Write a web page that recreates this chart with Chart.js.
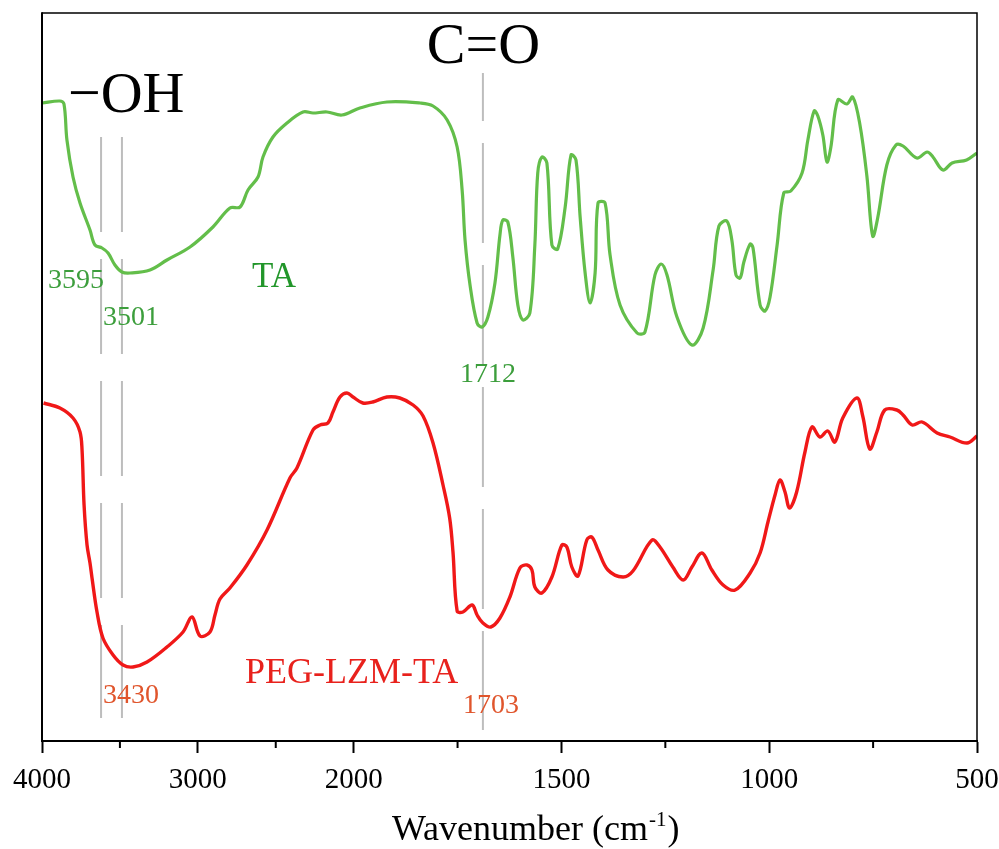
<!DOCTYPE html>
<html><head><meta charset="utf-8">
<script src="https://cdn.jsdelivr.net/npm/chart.js@4/dist/chart.umd.min.js"></script>
<style>html,body{margin:0;padding:0;background:#fff;}#wrap{width:999px;height:849px;position:relative;}</style>
</head><body><div id="wrap"><canvas id="c"></canvas></div>
<script>
// ---- data (wavenumber in cm-1, signal in arbitrary units) ----
const taWavenumber = [4000,3885,3859,3840,3801,3756,3692,3660,3615,3576,3532,3487,3435,3307,3198,3050,2903,2794,2729,2678,2614,2582,2518,2428,2325,2261,2171,2075,
  1985,1920,1840,1809,1775,1751,1739,1732,1720,1703,1691,1677,1660,1648,1641,1629,1617,1605,1593,1576,1564,1557,1547,1535,1523,1509,1491,1477,1465,1455,1443,1431,1419,1412,1395,1383,1359,1318,1299,1275,1260,1246,1222,1186,1159,1135,1121,1102,1090,1080,1070,1061,1046,1039,1022,1010,998,981,965,948,921,907,892,883,871,861,852,835,813,799,782,765,751,739,717,695,678,645,620,606,582,560,525,500];
const taSignal = [638,640,637,601,564,538,511,496,493,488,476,469,468,471,481,494,514,533,534,551,564,584,604,618,629,628,629,626,
  633,639,638,635,621,594,551,501,456,418,414,424,458,506,521,519,484,436,421,428,496,568,584,578,496,492,534,586,581,524,468,438,468,538,538,486,436,408,409,466,477,466,424,396,413,471,515,520,501,466,463,479,497,493,436,430,444,496,548,550,568,601,630,625,606,579,593,641,637,644,617,565,505,523,576,596,595,583,589,584,571,578,581,588];

const pegWavenumber = [3990,3885,3801,3756,3743,3730,3711,3692,3679,3647,3609,3544,3480,3416,3326,3198,3095,3037,2986,2922,2890,2858,2794,2685,2556,2409,2364,2261,2216,2165,2133,2088,2043,2004,
  1978,1954,1920,1889,1857,1833,1809,1785,1769,1761,1751,1737,1715,1703,1689,1670,1648,1624,1600,1583,1571,1564,1547,1523,1499,1487,1475,1460,1439,1427,1412,1388,1352,1328,1282,1263,1232,1207,1186,1162,1138,1111,1082,1046,1022,1003,986,974,962,951,934,914,897,878,859,842,823,789,775,758,741,722,693,678,656,632,596,565,524,500];
const pegSignal = [338,333,323,309,291,236,196,178,163,129,103,86,76,74,79,94,109,124,105,109,126,142,153,176,211,263,273,311,316,318,329,344,348,344,
  338,339,344,343,336,325,298,256,223,189,130,129,136,126,118,114,123,144,173,176,171,154,148,164,196,194,174,165,201,204,191,171,164,170,201,194,174,161,174,188,171,156,151,168,188,219,246,261,249,233,249,289,314,304,310,299,323,343,325,292,309,331,331,326,316,319,308,304,298,305];

const majorTicks = [4000, 3000, 2000, 1500, 1000, 500];
const minorTicks = [3500, 2500, 1750, 1250, 750];

// dashed marker lines (wavenumber, top and bottom signal of each line)
const peakLineX = [3621, 3487, 1689];
const peakLineTop = [604, 604, 668];
const peakLineBottom = [23, 23, 11];

// ---- split wavenumber scale: 4000-2000 takes the first third, 2000-500 the rest ----
const SPLIT = 2000, SPLIT_FRAC = 1/3;
function toDecimal(v){ return v >= SPLIT ? (4000 - v) / (4000 - SPLIT) * SPLIT_FRAC : SPLIT_FRAC + (SPLIT - v) / (SPLIT - 500) * (1 - SPLIT_FRAC); }
function fromDecimal(d){ return d <= SPLIT_FRAC ? 4000 - d / SPLIT_FRAC * (4000 - SPLIT) : SPLIT - (d - SPLIT_FRAC) / (1 - SPLIT_FRAC) * (SPLIT - 500); }

class SplitScale extends Chart.LinearScale {
  buildTicks(){ return majorTicks.map(v => ({ value: v })); }
  getPixelForValue(v){ return this.getPixelForDecimal(toDecimal(v)); }
  getValueForPixel(p){ return fromDecimal(this.getDecimalForPixel(p)); }
}
SplitScale.id = 'split';
SplitScale.defaults = Chart.LinearScale.defaults;
Chart.register(SplitScale);

const pts = (xs, ys) => xs.map((x, i) => ({ x, y: ys[i] }));

const datasets = [
  { label: 'TA', data: pts(taWavenumber, taSignal), borderColor: '#63be4a', borderWidth: 3.2, pointRadius: 0, tension: 0.35 },
  { label: 'PEG-LZM-TA', data: pts(pegWavenumber, pegSignal), borderColor: '#f01818', borderWidth: 3.4, pointRadius: 0, tension: 0.35 }
];
peakLineX.forEach((x, i) => {
  datasets.push({ label: 'line' + i, data: [{ x, y: peakLineTop[i] }, { x, y: peakLineBottom[i] }],
    borderColor: '#bdbdbd', borderWidth: 2, pointRadius: 0, borderDash: i === 2 ? [100, 22] : [95, 27],
    borderDashOffset: i === 2 ? 52 : 0 });
});

const SERIF = '"Liberation Serif", "Times New Roman", serif';
const annotations = [
  { text: '\u2212OH', x: 3833, y: 629, color: '#000', size: 58 },
  { text: 'C=O', x: 1824, y: 678, color: '#000', size: 58 },
  { text: 'TA', x: 2652, y: 454, color: '#22962a', size: 35 },
  { text: '3595', x: 3961, y: 453, color: '#3c9e3c', size: 28 },
  { text: '3501', x: 3609, y: 416, color: '#3c9e3c', size: 28 },
  { text: '1712', x: 1744, y: 359, color: '#3c9e3c', size: 28 },
  { text: 'PEG-LZM-TA', x: 2697, y: 58, color: '#e8211c', size: 36 },
  { text: '3430', x: 3609, y: 38, color: '#e0552c', size: 28 },
  { text: '1703', x: 1737, y: 28, color: '#e0552c', size: 28 }
];

const decor = {
  id: 'decor',
  afterDatasetsDraw(chart){
    const { ctx, chartArea: a, scales: { x, y } } = chart;
    ctx.save();
    ctx.strokeStyle = '#000';
    ctx.lineWidth = 1.5;
    ctx.beginPath();
    ctx.moveTo(a.left, a.top); ctx.lineTo(a.right, a.top); ctx.lineTo(a.right, a.bottom);
    ctx.stroke();
    ctx.lineWidth = 2;
    ctx.beginPath(); ctx.moveTo(a.left, a.top - 0.75); ctx.lineTo(a.left, a.bottom); ctx.stroke();
    minorTicks.forEach(v => {
      const px = x.getPixelForValue(v);
      ctx.beginPath(); ctx.moveTo(px, a.bottom); ctx.lineTo(px, a.bottom + 7); ctx.stroke();
    });
    ctx.textAlign = 'left'; ctx.textBaseline = 'alphabetic';
    annotations.forEach(t => {
      ctx.font = t.size + 'px ' + SERIF;
      ctx.fillStyle = t.color;
      ctx.fillText(t.text, x.getPixelForValue(t.x), y.getPixelForValue(t.y));
    });
    const main = 'Wavenumber (cm', sup = '-1', end = ')';
    ctx.fillStyle = '#000';
    ctx.font = '36px ' + SERIF;
    const w1 = ctx.measureText(main).width, w3 = ctx.measureText(end).width;
    ctx.font = '21px ' + SERIF;
    const w2 = ctx.measureText(sup).width;
    const cx = a.left + (a.right - a.left) * 0.527;
    let sx = cx - (w1 + w2 + w3) / 2;
    const base = x.top + 99;
    ctx.font = '36px ' + SERIF; ctx.fillText(main, sx, base); sx += w1;
    ctx.font = '21px ' + SERIF; ctx.fillText(sup, sx + 1, base - 14); sx += w2 + 2;
    ctx.font = '36px ' + SERIF; ctx.fillText(end, sx, base);
    ctx.restore();
  }
};

new Chart(document.getElementById('c'), {
  type: 'line',
  data: { datasets },
  plugins: [decor],
  options: {
    responsive: true, maintainAspectRatio: false, animation: false,
    layout: { padding: { left: 42, right: 22, top: 13, bottom: 0 } },
    plugins: { legend: { display: false }, tooltip: { enabled: false } },
    scales: {
      x: {
        type: 'split', min: 500, max: 4000,
        afterFit(s){ s.height = 108; s.paddingLeft = 0; s.paddingRight = 0; },
        grid: { drawOnChartArea: false, drawTicks: true, tickLength: 12, tickColor: '#000', tickWidth: 2 },
        border: { display: true, color: '#000', width: 2 },
        ticks: { autoSkip: false, maxRotation: 0, color: '#000', padding: 10,
          font: { family: SERIF, size: 29 }, callback: v => String(v) },
        title: { display: false }
      },
      y: { display: false, min: 0, max: 728 }
    }
  }
});
</script></body></html>
